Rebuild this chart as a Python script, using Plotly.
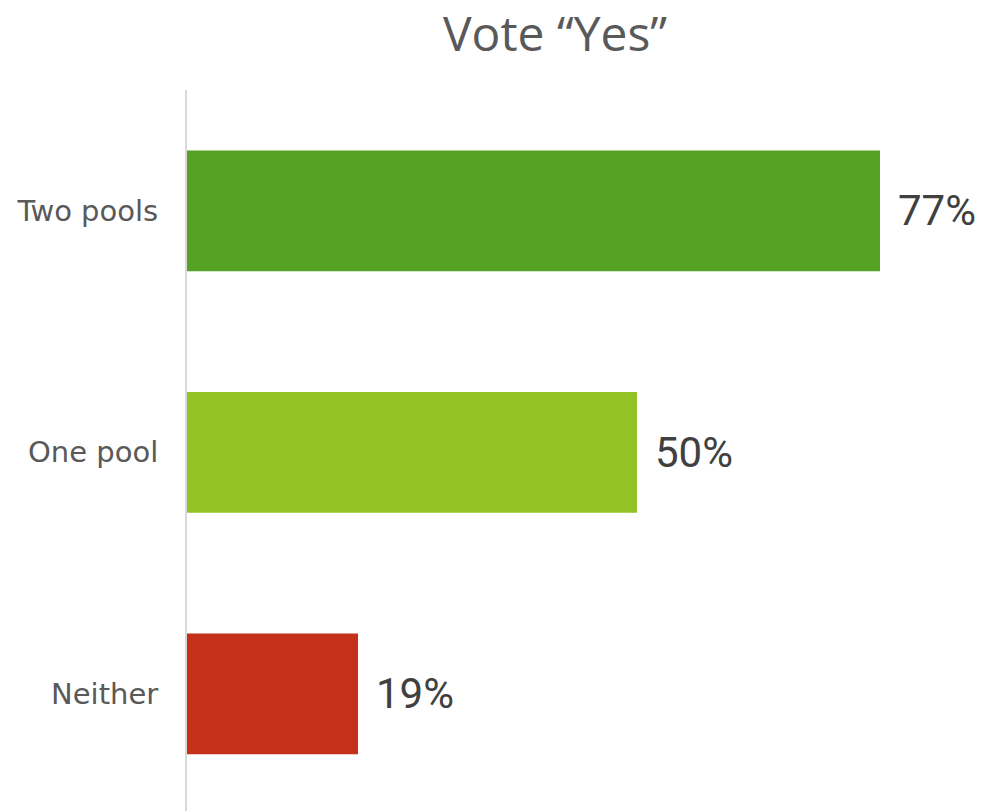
import plotly.graph_objects as go

categories = ["Two pools", "One pool", "Neither"]
values = [77, 50, 19]
colors = ["#55A224", "#93C225", "#C5301A"]
labels = [f"{v}%" for v in values]

OFF = 8  # default page body margin
W, H = 984 - OFF, 811 - OFF
left, top = 187 - OFF, 90 - OFF
PX_PER_PCT = 9.0
ROW_PX = 241.5

fig = go.Figure(go.Bar(
    y=categories, x=values, orientation="h",
    marker=dict(color=colors, line=dict(width=0)),
    width=0.5,
))
for c, v, t in zip(categories, values, labels):
    fig.add_annotation(x=v, y=c, text=t, showarrow=False, xanchor="left", yanchor="middle",
                       xshift=16, yshift=0,
                       font=dict(family="Roboto", size=42, color="#404040"))
fig.update_layout(
    width=W, height=H,
    margin=dict(l=left, r=0, t=top, b=0),
    plot_bgcolor="white", paper_bgcolor="white",
    title=dict(text="Vote “Yes”", x=(555 - OFF) / W, xanchor="center",
               y=1 - (34 - OFF) / H, yanchor="middle",
               font=dict(family="Open Sans", size=48, color="#595959")),
    showlegend=False,
)
fig.update_xaxes(range=[0, (W - left) / PX_PER_PCT], showgrid=False, showticklabels=False,
                 zeroline=False, showline=False)
fig.update_yaxes(categoryorder="array", categoryarray=categories,
                 range=[(H - top) / ROW_PX - 0.5, -0.5],
                 showgrid=False, zeroline=False, showline=True, linecolor="#D9D9D9", linewidth=2,
                 ticks="", ticklabelstandoff=21,
                 tickfont=dict(family="DejaVu Sans", size=29, color="#595959"))
fig.write_html("out.html")
